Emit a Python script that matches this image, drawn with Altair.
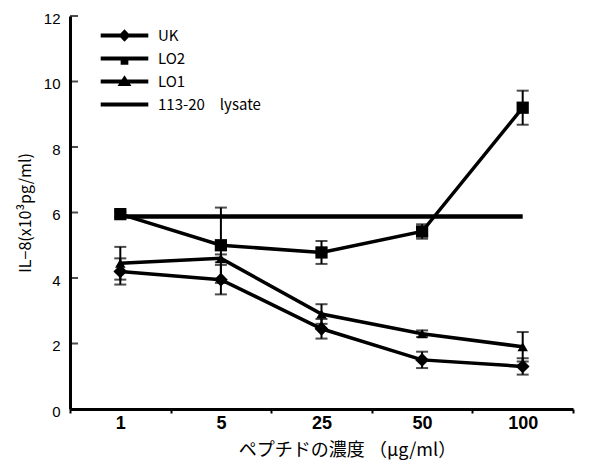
import altair as alt
import pandas as pd

# ---- data ----
concs = ["1", "5", "25", "50", "100"]
series_names = ["UK", "LO2", "LO1"]
uk = [4.2, 3.95, 2.45, 1.5, 1.3]
uk_err = [0.4, 0.45, 0.3, 0.25, 0.25]
lo2 = [5.95, 5.0, 4.78, 5.42, 9.2]
lo2_err = [0.08, 1.15, 0.35, 0.22, 0.52]
lo1 = [4.45, 4.6, 2.9, 2.3, 1.9]
lo1_err = [0.5, 0.12, 0.3, 0.1, 0.45]
lysate = [5.88, 5.88, 5.88, 5.88, 5.88]
legend_names = ["UK", "LO2", "LO1", "113-20\u2003lysate"]
y_ticks = [0, 2, 4, 6, 8, 10, 12]

rows = []
for name, vals, errs in [("UK", uk, uk_err), ("LO2", lo2, lo2_err), ("LO1", lo1, lo1_err)]:
    for c, v, e in zip(concs, vals, errs):
        rows.append({"series": name, "conc": c, "val": v, "err": e})
df = pd.DataFrame(rows)
lys_df = pd.DataFrame({"conc": concs, "val": lysate})
tick_df = pd.DataFrame({"val": y_ticks})

JP = "Noto Sans CJK JP"

xenc = alt.X(
    "conc:N",
    sort=concs,
    scale=alt.Scale(type="band", domain=concs, paddingInner=0, paddingOuter=0),
    title="ペプチドの濃度 （μg/ml）",
    axis=alt.Axis(
        labelAngle=0, tickBand="extent", tickSize=4, tickWidth=2, tickColor="black",
        domainColor="black", domainWidth=3, grid=False,
        labelFont="Liberation Sans", labelFontSize=18, labelFontWeight="bold",
        labelColor="black", labelPadding=1,
        titleFont=JP, titleFontSize=18, titleFontWeight="normal", titleColor="black",
        titlePadding=9, titleX=277,
    ),
)
yscale = alt.Scale(domain=[0, 12], nice=False, zero=True)
yaxis = alt.Axis(
    values=y_ticks, tickSize=0, labelPadding=10, labelOffset=2, grid=False,
    labelFont="Liberation Sans", labelFontSize=15, labelColor="black",
    domainColor="black", domainWidth=3,
    titleFont=JP, titleFontSize=16, titleFontWeight="normal", titleColor="black",
    titlePadding=10,
)
yenc = alt.Y("val:Q", scale=yscale, axis=yaxis, title="IL−8(x10³pg/ml)")

base = alt.Chart(df)

lines = base.mark_line(color="black", strokeWidth=3.5).encode(
    x=xenc, y=yenc, detail="series:N"
)
lys_line = alt.Chart(lys_df).mark_line(color="black", strokeWidth=4.5).encode(x=xenc, y=yenc)

errbars = base.mark_errorbar(
    color="black", ticks={"size": 12, "thickness": 2}, rule={"strokeWidth": 2}
).encode(x=xenc, y=yenc, yError=alt.YError("err:Q"), detail="series:N")

points = base.mark_point(filled=True, color="black", opacity=1).encode(
    x=xenc, y=yenc,
    shape=alt.Shape("series:N", scale=alt.Scale(domain=series_names,
                    range=["diamond", "square", "triangle-up"]), legend=None),
    size=alt.Size("series:N", scale=alt.Scale(domain=series_names, range=[190, 110, 190]),
                  legend=None),
)

# legend-only layer (no rows drawn), symbols = line + marker
bar = "M-3.4,-0.3L3.4,-0.3L3.4,0.3L-3.4,0.3Z"
paths = [
    bar + "M0,-0.9L0.85,0L0,0.9L-0.85,0Z",
    bar + "M-0.55,-0.2L0.55,-0.2L0.55,0.9L-0.55,0.9Z",
    bar + "M0,-0.9L1.0,0.65L-1.0,0.65Z",
    bar,
]
legend_layer = base.transform_filter("false").mark_point(filled=True, color="black", opacity=1).encode(
    x=xenc, y=yenc,
    shape=alt.Shape(
        "series:N",
        scale=alt.Scale(domain=legend_names, range=paths),
        legend=alt.Legend(
            orient="none", legendX=47, legendY=12, title=None, padding=0,
            symbolSize=196, symbolFillColor="black", symbolStrokeWidth=0,
            labelFont=JP, labelFontSize=15, labelColor="black", labelOffset=26,
            rowPadding=7,
        ),
    ),
)

yticks = alt.Chart(tick_df).mark_tick(color="black", thickness=2, size=8).encode(
    y=yenc, x=alt.value(4)
)

chart = (
    alt.layer(lys_line, lines, errbars, points, legend_layer, yticks)
    .resolve_scale(shape="independent", size="independent")
    .properties(
        width=503, height=393,
        autosize=alt.AutoSizeParams(type="none"),
        padding={"left": 62, "top": 8, "right": 20, "bottom": 51},
    )
    .configure_view(stroke=None)
)

chart.save("out.html", embed_options={"renderer": "svg", "actions": False})
